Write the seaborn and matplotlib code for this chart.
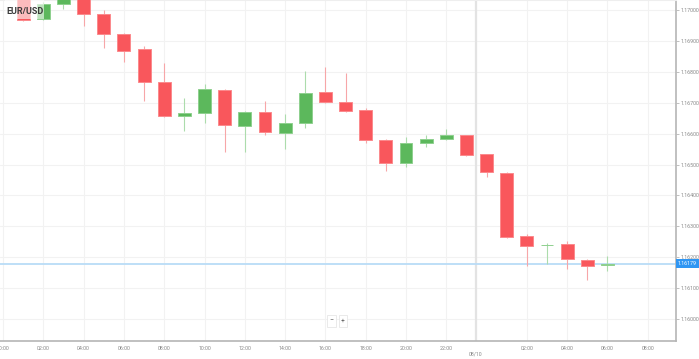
import numpy as np
import pandas as pd
import seaborn as sns
import matplotlib.pyplot as plt
from matplotlib.patches import Rectangle
from matplotlib.transforms import blended_transform_factory

# hourly EUR/USD candles (index 0 = 00:00 of first day)
hours = list(range(1, 31))
opens = [1.17045, 1.16971, 1.17019, 1.17035, 1.16986, 1.16922, 1.16873, 1.16768,
         1.16657, 1.16668, 1.16741, 1.16626, 1.16670, 1.16602, 1.16635, 1.16734,
         1.16703, 1.16676, 1.16579, 1.16504, 1.16569, 1.16582, 1.16595, 1.16533,
         1.16473, 1.16269, 1.16239, 1.16243, 1.16191, 1.16175]
highs = [1.17050, 1.17025, 1.17040, 1.17040, 1.17000, 1.16924, 1.16883, 1.16829,
         1.16714, 1.16761, 1.16744, 1.16673, 1.16705, 1.16663, 1.16803, 1.16817,
         1.16795, 1.16682, 1.16583, 1.16588, 1.16596, 1.16614, 1.16597, 1.16535,
         1.16475, 1.16274, 1.16247, 1.16253, 1.16195, 1.16204]
lows = [1.16966, 1.16968, 1.17002, 1.16948, 1.16878, 1.16833, 1.16706, 1.16655,
        1.16609, 1.16633, 1.16541, 1.16541, 1.16595, 1.16550, 1.16619, 1.16700,
        1.16669, 1.16571, 1.16480, 1.16493, 1.16558, 1.16580, 1.16529, 1.16459,
        1.16262, 1.16172, 1.16178, 1.16161, 1.16126, 1.16156]
closes = [1.16969, 1.17019, 1.17035, 1.16986, 1.16922, 1.16867, 1.16766, 1.16658,
          1.16668, 1.16743, 1.16627, 1.16671, 1.16605, 1.16633, 1.16732, 1.16703,
          1.16674, 1.16579, 1.16506, 1.16569, 1.16584, 1.16594, 1.16531, 1.16475,
          1.16266, 1.16237, 1.16241, 1.16193, 1.16172, 1.16179]
last_price = 1.16179

xtick_pos = [0, 2, 4, 6, 8, 10, 12, 14, 16, 18, 20, 22, 23.47, 26, 28, 30, 32]
xtick_lab = ["00:00", "02:00", "04:00", "06:00", "08:00", "10:00", "12:00", "14:00",
             "16:00", "18:00", "20:00", "22:00", "\n08/10", "02:00", "04:00", "06:00", "08:00"]
ytick_pos = np.round(np.arange(1.160, 1.17001, 0.001), 3)

W, H = 699, 359
sns.set_style("white")
plt.rcParams['font.family'] = ['Roboto', 'DejaVu Sans']

df = pd.DataFrame({'hour': hours, 'open': opens, 'high': highs, 'low': lows, 'close': closes})
df['up'] = df['close'] >= df['open']

fig = plt.figure(figsize=(W / 100, H / 100), dpi=100)
ax = fig.add_axes([0, 1 - 341 / H, 676 / W, 341 / H])

red, red_edge, red_wick = '#f9575c', '#fb8a8d', '#f7a6a8'
green, green_edge, green_wick = '#5cb85c', '#8fd08f', '#acdcac'

wick_c = [green_wick if u else red_wick for u in df['up']]
body_c = [green if u else red for u in df['up']]
edge_c = [green_edge if u else red_edge for u in df['up']]

ax.vlines(df['hour'], df['low'], df['high'], colors=wick_c, linewidth=0.8, zorder=2)
bottom = np.minimum(df['open'], df['close'])
height = np.maximum((df['close'] - df['open']).abs(), 0.00002)
ax.bar(df['hour'], height, bottom=bottom, width=0.64, color=body_c,
       edgecolor=edge_c, linewidth=0.7, zorder=3)

# day separator and last price line
ax.axvline(23.47, color='#e3e3e3', lw=1.6, zorder=1)
ax.axhline(last_price, color='#b9dcf7', lw=1.3, zorder=1.5)
trans = blended_transform_factory(ax.transAxes, ax.transData)
ax.text(1.003, last_price, f"{last_price:.5f}", transform=trans, ha='left', va='center',
        fontsize=3.8, color='white', clip_on=False,
        bbox=dict(boxstyle='square,pad=0.35', fc='#2f96f3', ec='none'))

ax.set_xlim(-0.15, 33.4)
ax.set_ylim(1.159288, 1.170324)
ax.yaxis.tick_right()
ax.set_yticks(ytick_pos)
ax.set_yticklabels([f"{v:.5f}" for v in ytick_pos])
ax.set_xticks(xtick_pos)
ax.set_xticklabels(xtick_lab)
ax.tick_params(length=2, width=0.6, color='#b5b5b5', labelsize=3.8, labelcolor='#888888', pad=1.5)
ax.grid(True, color='#f2f2f2', lw=0.8)
ax.set_axisbelow(True)

for side in ['right', 'bottom']:
    ax.spines[side].set_color('#b5b5b5')
    ax.spines[side].set_linewidth(1.2)
ax.spines['top'].set_color('#eeeeee')
ax.spines['top'].set_linewidth(0.8)
ax.spines['left'].set_visible(False)

# symbol label
fig.add_artist(Rectangle((5 / W, 1 - 19 / H), 39 / W, 19 / H, transform=fig.transFigure,
                         fc='white', ec='none', alpha=0.6, zorder=5))
fig.text(25 / W, 1 - 11 / H, "EUR/USD", ha='center', va='center', fontsize=6.5,
         fontweight='bold', color='#3a3a3a', zorder=6)

# zoom buttons
for xb, s in [(331.5, "−"), (343, "+")]:
    fig.text(xb / W, 1 - 321 / H, s, ha='center', va='center', fontsize=5, color='#666666',
             bbox=dict(boxstyle='square,pad=0.3', fc='white', ec='#e2e2e2', lw=0.5), zorder=6)

fig.savefig('out.png', dpi=100)
